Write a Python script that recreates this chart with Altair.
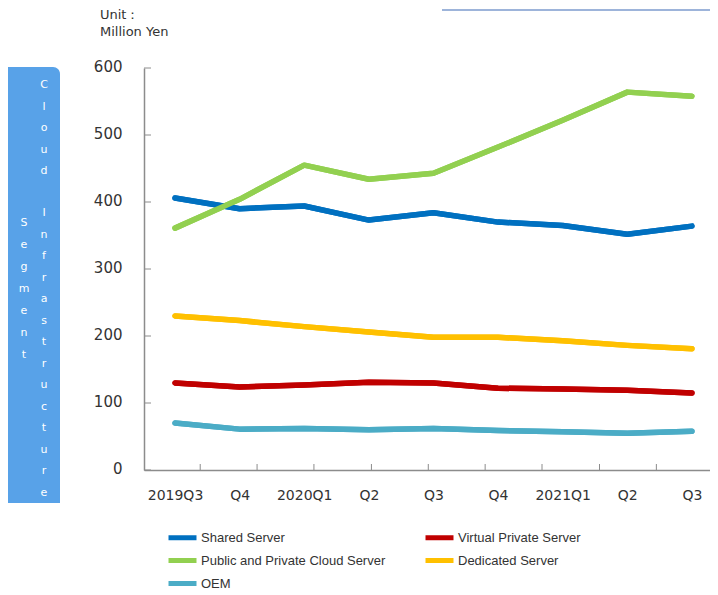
import altair as alt
import pandas as pd

# ---- data ----
quarters = ["2019Q3", "2019Q4", "2020Q1", "2020Q2", "2020Q3",
            "2020Q4", "2021Q1", "2021Q2", "2021Q3"]
quarter_labels = ["2019Q3", "Q4", "2020Q1", "Q2", "Q3", "Q4", "2021Q1", "Q2", "Q3"]

series_names = ["Shared Server", "Virtual Private Server",
                "Public and Private Cloud Server", "Dedicated Server", "OEM"]
shared_server = [406, 390, 394, 373, 384, 370, 365, 352, 364]
virtual_private_server = [130, 124, 127, 131, 130, 122, 121, 119, 115]
public_private_cloud = [361, 404, 455, 434, 443, 482, 522, 564, 558]
dedicated_server = [230, 223, 214, 206, 198, 198, 193, 186, 181]
oem = [70, 61, 62, 60, 62, 59, 57, 55, 58]

series_colors = {
    "Shared Server": "#0070C0",
    "Virtual Private Server": "#C00000",
    "Public and Private Cloud Server": "#92D050",
    "Dedicated Server": "#FFC000",
    "OEM": "#4BACC6",
}

y_tick_values = [0, 100, 200, 300, 400, 500, 600]
x_tick_values = [0.39, 1.27, 2.15, 3.04, 3.92, 4.80, 5.68, 6.57, 7.45]

unit_lines = ["Unit：", "Million Yen"]
side_word_cloud = list("Cloud")
side_word_infra = list("Infrastructure")
side_word_segment = list("Segment")

# ---- build table ----
values_by_series = {
    "Shared Server": shared_server,
    "Virtual Private Server": virtual_private_server,
    "Dedicated Server": dedicated_server,
    "OEM": oem,
    "Public and Private Cloud Server": public_private_cloud,
}
rows = []
for name, vals in values_by_series.items():
    for i, (q, v) in enumerate(zip(quarters, vals)):
        rows.append({"series": name, "quarter": q, "idx": i, "value": v})
df = pd.DataFrame(rows)

# legend fills column by column: order the domain so rows read as in the reference
legend_order = [series_names[0], series_names[2], series_names[4],
                series_names[1], series_names[3]]

label_expr = "[" + ",".join("'" + s + "'" for s in quarter_labels) + "][datum.value]"

x_scale = alt.Scale(domain=[-0.48, 8.28], nice=False, zero=False)
y_scale = alt.Scale(domain=[0, 600], nice=False, zero=True)

axis_gray = "#8C8C8C"
text_col = "#333333"

x_axis = alt.Axis(values=list(range(len(quarters))), labelExpr=label_expr,
                  ticks=False, grid=False, domainColor=axis_gray, domainWidth=1.5,
                  labelFont="DejaVu Sans", labelFontSize=14, labelColor=text_col,
                  labelPadding=18, labelFlush=False, labelOverlap=False, title=None)
y_axis = alt.Axis(values=y_tick_values, ticks=False, grid=False,
                  domainColor=axis_gray, domainWidth=1.5,
                  labelFont="DejaVu Sans", labelFontSize=15, labelColor=text_col,
                  labelPadding=22, labelOffset=-2, title=None)

lines = alt.Chart(df).mark_line(strokeWidth=5.5, strokeCap="round", strokeJoin="round").encode(
    x=alt.X("idx:Q", scale=x_scale, axis=x_axis),
    y=alt.Y("value:Q", scale=y_scale, axis=y_axis),
    color=alt.Color("series:N",
                    scale=alt.Scale(domain=legend_order,
                                    range=[series_colors[s] for s in legend_order]),
                    legend=alt.Legend(orient="none", legendX=26, legendY=457, columns=2,
                                      symbolType="M-1.4,0H1.4", symbolStrokeWidth=5,
                                      symbolSize=400, labelFont="Liberation Sans",
                                      labelFontSize=13, labelColor=text_col,
                                      labelLimit=400, labelOffset=6,
                                      columnPadding=29, rowPadding=0, title=None)),
    detail="series:N",
)

x_ticks = alt.Chart(pd.DataFrame({"t": x_tick_values})).mark_rule(
    color=axis_gray, strokeWidth=1).encode(
    x=alt.X("t:Q", scale=x_scale, axis=x_axis),
    y=alt.value(396), y2=alt.value(402),
)

y_ticks = alt.Chart(pd.DataFrame({"t": y_tick_values})).mark_rule(
    color=axis_gray, strokeWidth=1).encode(
    y=alt.Y("t:Q", scale=y_scale, axis=y_axis),
    x=alt.value(0), x2=alt.value(7),
)

one = pd.DataFrame({"a": [0]})

side_box = alt.Chart(one).mark_rect(color="#58A2E8", cornerRadiusTopRight=7).encode(
    x=alt.value(-136), x2=alt.value(-84), y=alt.value(-1), y2=alt.value(435),
)


def side_text(letters, x, y, lh):
    return alt.Chart(one).mark_text(
        align="center", baseline="top", font="DejaVu Sans", fontSize=11,
        color="white", lineHeight=lh).encode(
        x=alt.value(x), y=alt.value(y), text=alt.value(letters),
    )


side_cloud = side_text(side_word_cloud, -100, 11, 21.5)
side_infra = side_text(side_word_infra, -100, 139, 21.5)
side_segment = side_text(side_word_segment, -120, 149, 22)

unit_text = alt.Chart(one).mark_text(
    align="left", baseline="top", font="DejaVu Sans", fontSize=13,
    color=text_col, lineHeight=17).encode(
    x=alt.value(-44), y=alt.value(-59), text=alt.value(unit_lines),
)

top_line = alt.Chart(one).mark_rule(color="#9DB4DA", strokeWidth=2).encode(
    x=alt.value(298), x2=alt.value(566), y=alt.value(-58),
)

chart = alt.layer(
    lines, side_box, side_cloud, side_infra, side_segment, unit_text, top_line,
    x_ticks, y_ticks, lines,
).properties(
    width=566, height=402,
    autosize=alt.AutoSizeParams(type="none"),
    padding={"left": 136, "top": 60, "right": 0, "bottom": 119},
).configure_view(stroke=None)

chart.save("out.html", embed_options={"renderer": "svg", "actions": False})
